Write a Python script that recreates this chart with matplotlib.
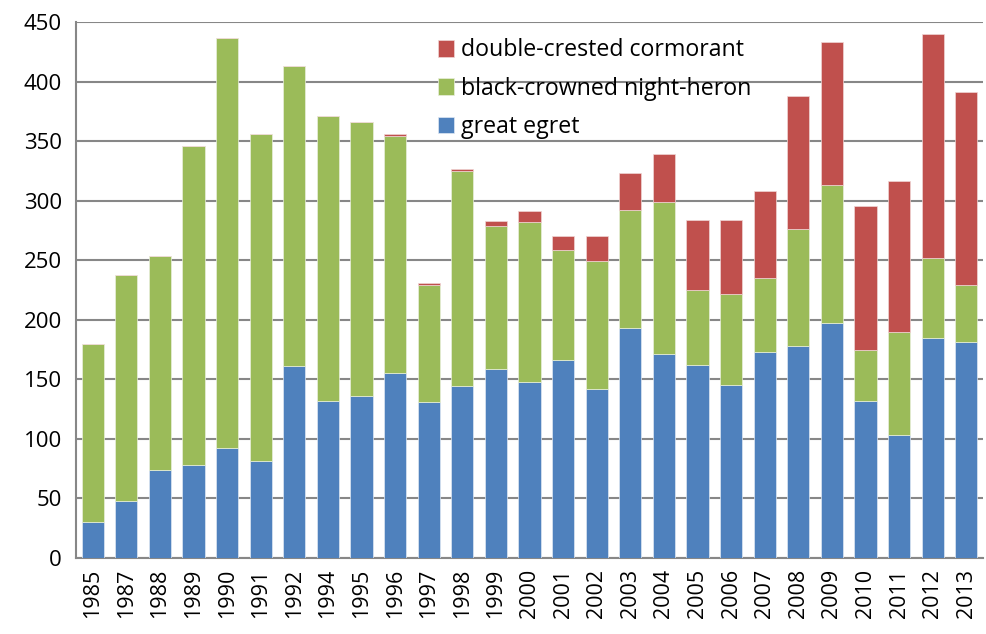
import matplotlib
matplotlib.use("Agg")
import matplotlib.pyplot as plt
import numpy as np

years = ["1985", "1987", "1988", "1989", "1990", "1991", "1992", "1994", "1995", "1996",
         "1997", "1998", "1999", "2000", "2001", "2002", "2003", "2004", "2005", "2006",
         "2007", "2008", "2009", "2010", "2011", "2012", "2013"]
great_egret = [30, 48, 74, 78, 92, 81, 161, 132, 136, 155,
               131, 144, 159, 148, 166, 142, 193, 171, 162, 145,
               173, 178, 197, 132, 103, 185, 181]
night_heron = [150, 190, 180, 268, 345, 275, 252, 239, 230, 199,
               98, 181, 120, 134, 93, 107, 99, 128, 63, 77,
               62, 98, 116, 43, 87, 67, 48]
cormorant = [0, 0, 0, 0, 0, 0, 0, 0, 0, 2,
             2, 2, 4, 9, 11, 21, 31, 40, 59, 62,
             73, 112, 120, 121, 127, 188, 162]

BLUE = "#4F81BD"
GREEN = "#9BBB59"
RED = "#C0504D"
GRID = "#878787"

plt.rcParams['font.family'] = ['Open Sans', 'DejaVu Sans']

fig = plt.figure(figsize=(9.86, 6.34), dpi=100)
ax = fig.add_axes([0.077, 0.12, 0.92, 0.845])

x = np.arange(len(years))
ge = np.array(great_egret)
nh = np.array(night_heron)
dc = np.array(cormorant)
w = 0.66
b1 = ax.bar(x, ge, w, color=BLUE, edgecolor="#dfe8f3", linewidth=0.5, label="great egret", zorder=3)
b2 = ax.bar(x, nh, w, bottom=ge, color=GREEN, edgecolor="#e9f0dc", linewidth=0.5, label="black-crowned night-heron", zorder=3)
b3 = ax.bar(x, dc, w, bottom=ge + nh, color=RED, edgecolor="#f0d6d5", linewidth=0.5, label="double-crested cormorant", zorder=3)

ax.set_xlim(-0.5, len(years) - 0.5)
ax.set_ylim(0, 450)
ax.set_yticks(np.arange(0, 451, 50))
ax.yaxis.grid(True, color=GRID, linewidth=1.5, zorder=0)
ax.set_axisbelow(True)
ax.set_xticks(x)
ax.set_xticklabels(years, rotation=90, fontsize=15.5)
ax.tick_params(axis='y', labelsize=16, length=0, pad=10)
ax.tick_params(axis='x', length=0, pad=8)
for s in ['top', 'right']:
    ax.spines[s].set_visible(False)
for s in ['left', 'bottom']:
    ax.spines[s].set_color(GRID)
    ax.spines[s].set_linewidth(1.5)

handles = [b3, b2, b1]
labels = [h.get_label() for h in handles]
leg = ax.legend(handles, labels, loc='upper left', bbox_to_anchor=(0.381, 1.0),
                frameon=False, fontsize=16.7, handlelength=0.72, handleheight=0.72,
                handletextpad=0.3, labelspacing=0.62, borderpad=0.2)

fig.savefig("out.png", dpi=100)
